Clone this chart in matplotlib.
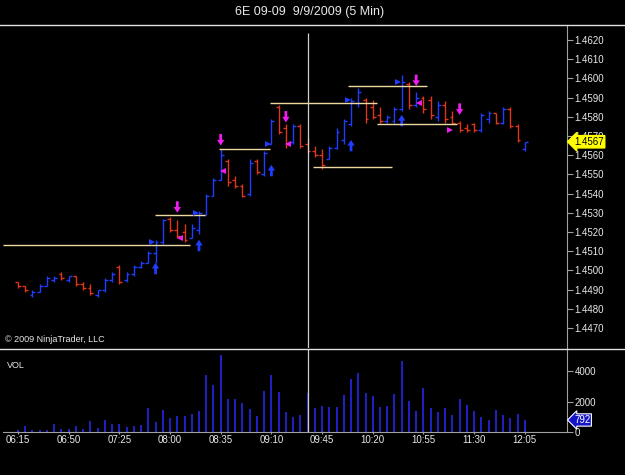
"""6E 09-09 5-minute OHLC chart with signal markers and volume panel."""

import matplotlib

matplotlib.use("Agg")
import matplotlib.pyplot as plt
import matplotlib.transforms as mtransforms
import numpy as np
from matplotlib.lines import Line2D
from matplotlib.patches import FancyArrow

plt.rcParams["font.family"] = ["Liberation Sans", "DejaVu Sans"]

# ---- data --------------------------------------------------------------
opens = [1.4494, 1.4492, 1.4487, 1.4489, 1.4492, 1.4495, 1.4498, 1.4495, 1.4497, 1.4493,
         1.4491, 1.4487, 1.4490, 1.4495, 1.4502, 1.4495, 1.4498, 1.4502, 1.4504, 1.4509,
         1.4515, 1.4527, 1.4521, 1.4520, 1.4517, 1.4521, 1.4529, 1.4539, 1.4547, 1.4557,
         1.4547, 1.4544, 1.4540, 1.4557, 1.4550, 1.4566, 1.4585, 1.4574, 1.4567, 1.4575,
         1.4566, 1.4562, 1.4560, 1.4558, 1.4564, 1.4568, 1.4576, 1.4587, 1.4589, 1.4585,
         1.4581, 1.4578, 1.4578, 1.4584, 1.4597, 1.4586, 1.4590, 1.4589, 1.4580, 1.4586,
         1.4580, 1.4577, 1.4574, 1.4576, 1.4573, 1.4579, 1.4582, 1.4577, 1.4584, 1.4575,
         1.4563]
highs = [1.4494, 1.4492, 1.4490, 1.4493, 1.4497, 1.4497, 1.4499, 1.4497, 1.4497, 1.4494,
         1.4493, 1.4490, 1.4496, 1.4499, 1.4503, 1.4499, 1.4503, 1.4505, 1.4510, 1.4516,
         1.4527, 1.4528, 1.4526, 1.4524, 1.4524, 1.4531, 1.4540, 1.4548, 1.4563, 1.4558,
         1.4549, 1.4545, 1.4558, 1.4558, 1.4562, 1.4579, 1.4586, 1.4576, 1.4576, 1.4576,
         1.4569, 1.4565, 1.4563, 1.4565, 1.4574, 1.4579, 1.4590, 1.4595, 1.4590, 1.4589,
         1.4585, 1.4581, 1.4585, 1.4602, 1.4598, 1.4593, 1.4591, 1.4591, 1.4588, 1.4588,
         1.4583, 1.4578, 1.4576, 1.4577, 1.4582, 1.4583, 1.4582, 1.4585, 1.4585, 1.4576,
         1.4567]
lows = [1.4491, 1.4489, 1.4486, 1.4489, 1.4492, 1.4494, 1.4495, 1.4494, 1.4492, 1.4490,
        1.4487, 1.4486, 1.4489, 1.4494, 1.4493, 1.4494, 1.4497, 1.4501, 1.4504, 1.4504,
        1.4514, 1.4520, 1.4517, 1.4515, 1.4517, 1.4519, 1.4529, 1.4539, 1.4547, 1.4544,
        1.4543, 1.4538, 1.4539, 1.4550, 1.4549, 1.4566, 1.4571, 1.4564, 1.4566, 1.4564,
        1.4561, 1.4559, 1.4553, 1.4558, 1.4563, 1.4566, 1.4575, 1.4585, 1.4577, 1.4579,
        1.4577, 1.4577, 1.4577, 1.4583, 1.4584, 1.4585, 1.4582, 1.4579, 1.4578, 1.4577,
        1.4576, 1.4572, 1.4572, 1.4572, 1.4572, 1.4577, 1.4576, 1.4576, 1.4574, 1.4567,
        1.4562]
closes = [1.4492, 1.4490, 1.4489, 1.4492, 1.4496, 1.4496, 1.4496, 1.4497, 1.4493, 1.4491,
          1.4488, 1.4490, 1.4495, 1.4498, 1.4494, 1.4498, 1.4502, 1.4504, 1.4509, 1.4515,
          1.4526, 1.4521, 1.4518, 1.4516, 1.4522, 1.4530, 1.4539, 1.4547, 1.4560, 1.4546,
          1.4544, 1.4539, 1.4556, 1.4551, 1.4561, 1.4578, 1.4572, 1.4566, 1.4575, 1.4565,
          1.4562, 1.4560, 1.4555, 1.4564, 1.4572, 1.4578, 1.4588, 1.4593, 1.4579, 1.4580,
          1.4578, 1.4580, 1.4584, 1.4598, 1.4586, 1.4590, 1.4584, 1.4581, 1.4586, 1.4579,
          1.4577, 1.4573, 1.4573, 1.4573, 1.4581, 1.4582, 1.4577, 1.4584, 1.4575, 1.4568,
          1.4567]
volumes = [150, 400, 150, 150, 150, 550, 220, 220, 400, 220,
           730, 290, 810, 530, 550, 330, 370, 440, 1560, 660,
           1430, 950, 1050, 1050, 1200, 1380, 3780, 3080, 5100, 2200,
           2200, 1910, 1500, 1030, 2680, 3740, 2640, 1320, 990, 1100,
           2590, 1580, 1690, 1650, 1650, 2420, 3470, 3910, 2570, 2370,
           1650, 1710, 2530, 4660, 2040, 1380, 2920, 1580, 1320, 1580,
           1100, 2150, 1750, 1360, 990, 770, 1470, 1140, 950, 1200,
           792]

time_labels = ["06:15", "06:50", "07:25", "08:00", "08:35", "09:10",
               "09:45", "10:20", "10:55", "11:30", "12:05"]
label_step = 7  # bars between time labels

# signal markers (bar index, price)
buy_arrow_bars = [19, 25, 35, 46, 53]
buy_arrow_tips = [1.4504, 1.4516, 1.4555, 1.4568, 1.4581]
sell_arrow_bars = [22, 28, 37, 55, 61]
sell_arrow_tips = [1.4530, 1.4565, 1.4577, 1.4596, 1.4581]
buy_tri_bars = [19, 25, 35, 46, 53]
buy_tri_prices = [1.4515, 1.4530, 1.4566, 1.4589, 1.4598]
sell_tri_bars = [22, 28, 37, 55]
sell_tri_prices = [1.4517, 1.4552, 1.4566, 1.4587]
exit_tri_bars = [60]
exit_tri_prices = [1.4573]

# horizontal levels: start bar, end bar, price
level_start = [-2.1, 18.9, 27.8, 34.8, 45.6, 49.6, 40.7]
level_end = [23.8, 25.8, 34.8, 49.6, 56.5, 60.6, 51.7]
level_price = [1.4513, 1.4529, 1.4563, 1.4587, 1.4596, 1.4576, 1.4554]

cursor_bar = 40
last_price = closes[-1]
last_volume = volumes[-1]

# ---- styling ------------------------------------------------------------
UP = "#1f3cff"
DOWN = "#e0361c"
VOL = "#2424d8"
MAGENTA = "#f01cf0"
LEVEL = "#ecd9a0"
AXIS = "#a0a0a0"
TEXT = "#e8e8e8"

W, H = 625, 475
BAR0_PX, BAR_PX = 18, 7.24
fig = plt.figure(figsize=(W / 100, H / 100), dpi=100, facecolor="black")


def add_px_axes(left, top, right, bottom):
    return fig.add_axes([left / W, 1 - bottom / H, (right - left) / W, (bottom - top) / H])


def style_axes(ax):
    ax.set_facecolor("black")
    for side in ("left", "top", "bottom", "right"):
        ax.spines[side].set_visible(False)
    ax.spines["right"].set_visible(True)
    ax.spines["right"].set_color(AXIS)
    ax.yaxis.tick_right()
    ax.tick_params(axis="y", colors=AXIS, labelcolor=TEXT, labelsize=7,
                   length=4, width=0.8, pad=1.5)


x_left = (3 - BAR0_PX) / BAR_PX
x_right = (567 - BAR0_PX) / BAR_PX

price_ax = add_px_axes(3, 26, 567, 348)
vol_ax = add_px_axes(3, 350, 567, 432)
for ax in (price_ax, vol_ax):
    style_axes(ax)
    ax.set_xlim(x_left, x_right)

# ---- price panel --------------------------------------------------------
idx = np.arange(len(opens))
o, h, l, c = map(np.asarray, (opens, highs, lows, closes))
colors = np.where(c >= o, UP, DOWN)
price_ax.vlines(idx, l, h, colors=colors, linewidth=1.0)
price_ax.hlines(o, idx - 0.4, idx, colors=colors, linewidth=1.0)
price_ax.hlines(c, idx, idx + 0.4, colors=colors, linewidth=1.0)

for x0, x1, p in zip(level_start, level_end, level_price):
    price_ax.hlines(p, x0, x1, colors=LEVEL, linewidth=1.0)

for b, tip in zip(buy_arrow_bars, buy_arrow_tips):
    price_ax.add_patch(FancyArrow(b, tip - 0.0006, 0, 0.0006, width=0.38, head_width=1.0,
                                  head_length=0.0003, length_includes_head=True,
                                  color=UP, linewidth=0))
for b, tip in zip(sell_arrow_bars, sell_arrow_tips):
    price_ax.add_patch(FancyArrow(b, tip + 0.0006, 0, -0.0006, width=0.38, head_width=1.0,
                                  head_length=0.0003, length_includes_head=True,
                                  color=MAGENTA, linewidth=0))

price_ax.plot(np.asarray(buy_tri_bars) - 0.45, buy_tri_prices, ">", color=UP,
              markersize=5, markeredgewidth=0, linestyle="none")
price_ax.plot(np.asarray(sell_tri_bars) + 0.35, sell_tri_prices, "<", color=MAGENTA,
              markersize=5, markeredgewidth=0, linestyle="none")
price_ax.plot(np.asarray(exit_tri_bars) - 0.4, exit_tri_prices, ">", color=MAGENTA,
              markersize=5, markeredgewidth=0, linestyle="none")

price_ax.vlines(cursor_bar, 1.4400, 1.46235, colors="#d0d0d0", linewidth=0.9)

price_ax.set_ylim(1.445958, 1.462729)
price_ax.set_yticks(np.arange(1.4470, 1.46201, 0.001))
price_ax.yaxis.set_major_formatter(plt.FormatStrFormatter("%.4f"))
price_ax.set_xticks([])

blend = mtransforms.blended_transform_factory(price_ax.transAxes, price_ax.transData)
price_ax.text(1.0, last_price, f"{last_price:.4f}", fontsize=7, color="black",
              ha="left", va="center", clip_on=False, zorder=5,
              transform=mtransforms.offset_copy(blend, fig, x=7, units="dots"),
              bbox=dict(boxstyle="larrow,pad=0.12", fc="#ffff00", ec="#ffff00"))

# ---- volume panel -------------------------------------------------------
vol_ax.vlines(idx, 0, volumes, colors=VOL, linewidth=1.3)
vol_ax.vlines(cursor_bar, 0, 6000, colors="#d0d0d0", linewidth=0.9)
vol_ax.set_ylim(0, 5400)
vol_ax.set_yticks([0, 2000, 4000])
vol_ax.spines["bottom"].set_visible(True)
vol_ax.spines["bottom"].set_color(AXIS)
tick_pos = np.arange(len(time_labels)) * label_step
vol_ax.set_xticks(tick_pos)
vol_ax.set_xticklabels(time_labels)
vol_ax.tick_params(axis="x", colors=AXIS, labelcolor=TEXT, labelsize=7,
                   length=3, width=0.8, direction="inout", pad=0.5)

vblend = mtransforms.blended_transform_factory(vol_ax.transAxes, vol_ax.transData)
vol_ax.text(1.0, last_volume, f"{last_volume}", fontsize=7, color="white",
            ha="left", va="center", clip_on=False, zorder=5,
            transform=mtransforms.offset_copy(vblend, fig, x=7, units="dots"),
            bbox=dict(boxstyle="larrow,pad=0.12", fc="#1414c8", ec="white", lw=0.8))

# ---- frame and texts ----------------------------------------------------
for y in (25, 349):
    fig.add_artist(Line2D([0, 1], [1 - y / H, 1 - y / H], color="#e0e0e0", linewidth=1.0))

fig.text(310 / W, 1 - 12 / H, "6E 09-09  9/9/2009 (5 Min)", color=TEXT, fontsize=9,
         ha="center", va="center")
fig.text(5 / W, 1 - 340 / H, "\u00a9 2009 NinjaTrader, LLC", color=TEXT, fontsize=6.5,
         ha="left", va="center")
fig.text(7 / W, 1 - 365 / H, "VOL", color=TEXT, fontsize=6.5, ha="left", va="center")

fig.savefig("out.png", dpi=100, facecolor="black")
